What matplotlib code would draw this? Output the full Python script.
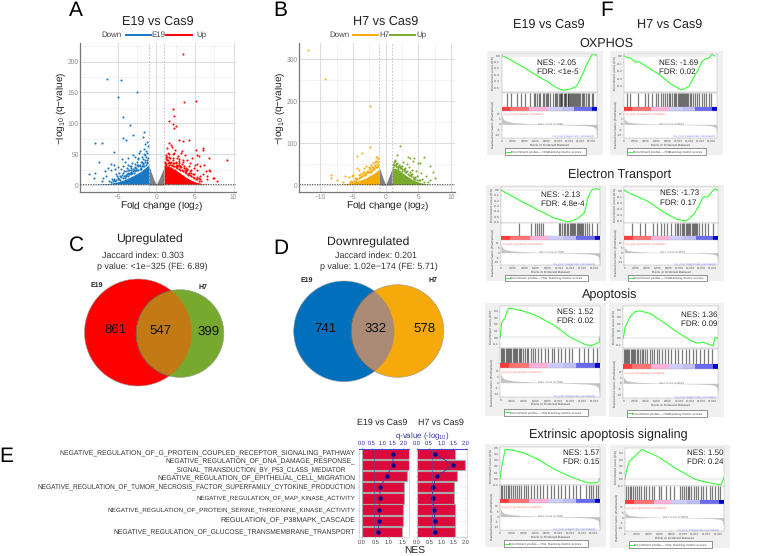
import matplotlib
matplotlib.use('Agg')
import matplotlib.pyplot as plt
import numpy as np
from matplotlib.patches import Circle, Rectangle

W, H = 764, 556
plt.rcParams['font.family'] = ['Liberation Sans', 'DejaVu Sans']
plt.rcParams['mathtext.default'] = 'regular'
plt.rcParams['text.hinting'] = 'no_hinting'

# volcano A
e19_dn_x = [-6.3,-4.5,-2.45,-4.95,-4.3,-3.35,-3.0,-1.6,-1.7,-4.3,-3.9,-7.9,-7.05,-5.5,-7.35,-8.65,-7.9,-8.1,-6.6,-5.9,-6.85,-7.0,-6.2,-5.8,-5.4,-5.2,-4.9,-4.7,-4.4,-4.2,-4.0,-3.8,-3.6,-3.4,-3.2,-3.0,-2.8,-2.6,-2.4,-2.2,-2.0,-1.8,-1.6,-1.4,-1.2,-1.1,-1.3,-1.5,-1.9,-2.3,-2.7,-3.1,-3.5,-3.9,-4.3,-4.8,-5.3,-5.7,-6.1,-6.5,-1.2,-1.4,-1.7,-2.1,-2.5,-2.9,-3.3,-3.7,-4.1,-4.6,-5.0,-5.5,-1.1,-1.25,-1.6,-2.0,-2.4,-2.8,-3.2,-3.6,
            -1.15,-1.35,-1.55,-1.75,-1.95,-2.15,-2.35,-2.55,-2.75,-2.95,-3.15,-3.35,-3.55,-3.75,-3.95,-4.15,-4.35,-4.55,-4.75,-4.95,-5.15,-5.35,-5.6,-5.9,-1.2,-1.45,-1.7,-1.9,-2.1,-2.3,-2.6,-2.85,-3.05,-3.3,-3.5,-3.7,-3.9,-4.1,-4.4,-4.7,-5.05,-5.45,-1.3,-1.65,-2.05,-2.45,-2.75,-3.25,-3.65,-4.25]
e19_dn_y = [171,170,150,142,110,97,81,86,78,76,73,68,67.5,53.5,38,18,19.5,12,23,34,11,6,27,24,32,17,29,14,42,22,38,27,44,30,21,48,34,25,42,51,37,46,58,66,69,63,55,40,30,44,28,36,17,22,30,20,26,10,7,15,52,48,35,55,33,25,24,33,15,26,12,8,44,38,50,26,30,45,31,20,
            35,33,31,30,27,26,24,24,22,22,20,20,17,18,14,15,12,13,10,9,8,7,6,5,40,37,34,38,30,32,27,19,26,18,24,15,16,11,16,8,14,10,45,42,33,37,29,27,25,19]
e19_up_x = [3.5,5.15,3.55,2.15,2.3,1.6,2.2,2.6,2.35,2.9,3.5,4.2,1.7,1.95,5.1,5.3,6.0,6.0,9.2,6.85,5.3,5.5,6.2,6.8,7.0,7.3,7.9,6.5,7.4,6.0,5.7,4.6,4.9,4.4,4.0,3.7,3.3,3.0,2.7,2.4,2.1,1.8,1.5,1.2,1.1,1.3,1.6,1.9,2.2,2.5,2.8,3.1,3.4,3.8,4.2,4.7,5.2,5.6,6.4,6.6,1.15,1.4,1.7,2.0,2.3,2.6,2.9,3.2,3.6,4.0,4.5,5.0,5.5,1.25,1.55,2.05,2.45,3.0,3.5,4.1,
            1.1,1.3,1.5,1.7,1.9,2.1,2.3,2.5,2.7,2.9,3.1,3.3,3.5,3.7,3.9,4.1,4.3,4.5,4.7,4.9,5.1,5.3,5.5,5.8,1.2,1.45,1.65,1.85,2.15,2.35,2.65,2.85,3.05,3.25,3.55,3.75,3.95,4.25,4.55,4.85,5.25,5.65,1.35,1.75,2.2,2.6,2.95,3.35,3.85,4.35]
e19_up_y = [212,136,134,123,111,104,98,96,92,73,72,73,68,64,57,49,60,57,41,43,34,47,32,25,23,12,6,14,12,18,30,43,27,36,26,48,55,39,44,57,50,36,52,46,38,33,46,27,40,31,47,29,37,22,31,18,24,14,22,9,30,60,50,33,52,36,42,52,30,40,24,32,12,48,40,62,25,33,41,16,
            36,34,35,33,32,31,30,29,28,26,25,24,22,21,19,18,16,15,13,12,10,9,7,6,42,40,38,37,36,35,33,31,31,29,27,25,24,20,19,17,13,10,45,44,44,38,36,34,27,23]
e19_core_x = [-8, -6, -5, -4, -3, -2, -1.5, -1, 1, 1.5, 2, 3, 4, 5, 6, 7]
e19_core_y = [1.3, 2.5, 5, 9, 15, 22, 27, 32, 30, 31, 28, 20, 11, 5, 2, 1.3]
e19_ns_x = [-1, -0.8, -0.6, -0.4, -0.2, 0, 0.2, 0.4, 0.6, 0.8, 1]
e19_ns_y = [33, 26, 19, 12, 6, 1, 6, 11, 17, 23, 28]

# volcano B
h7_dn_x = [-11.9,-9.25,-2.4,-2.4,-4.4,-3.6,-8.3,-8.35,-7.4,-6.2,-6.5,-5.2,-4.4,-2.3,-1.5,-1.3,-1.1,-1.7,-1.6,-2.0,-2.8,-3.3,-3.9,-4.7,-5.0,-5.5,-5.6,-3.0,-2.5,-1.9,-1.2,-1.4,-1.8,-2.2,-2.6,-3.5,-4.1,-4.6,-3.1,-2.1,
           -1.15,-1.35,-1.55,-1.75,-1.95,-2.15,-2.35,-2.55,-2.75,-2.95,-3.15,-3.35,-3.55,-3.75,-3.95,-4.15,-4.35,-4.55,-4.8,-5.1,-1.25,-1.65,-2.05,-2.45,-2.85,-3.25,-3.65,-4.05,-4.5,-5.3]
h7_dn_y = [322,253,189,91,70,77,23,17,12,22,7,21,40,48,66,68,62,55,45,52,32,40,27,16,24,6,18,46,38,42,54,58,38,30,44,30,35,10,24,36,
           46,44,42,40,38,36,34,32,30,28,26,24,22,20,18,16,14,12,10,8,50,47,43,40,34,31,27,23,17,10]
h7_up_x = [2.15,5.8,6.8,7.2,7.5,6.8,5.0,5.2,3.4,3.7,4.3,1.8,4.2,3.3,2.6,2.2,1.5,1.2,1.1,1.4,1.7,2.0,2.4,2.9,3.6,4.0,4.6,5.4,6.2,6.5,5.5,4.8,3.0,2.5,1.9,1.6,1.3,3.9,4.4,5.9,
           1.15,1.35,1.55,1.75,1.95,2.15,2.35,2.55,2.75,2.95,3.15,3.35,3.55,3.75,3.95,4.15,4.35,4.55,4.8,5.1,1.25,1.65,2.05,2.45,2.85,3.25,3.65,4.05,4.5,5.3]
h7_up_y = [94,68,45,30,16,12,52,52,68,64,65,71,58,50,56,40,60,48,42,58,52,46,46,40,42,36,34,29,22,8,14,22,32,34,38,50,35,26,14,6,
           50,48,46,44,43,42,40,38,36,33,30,27,25,23,21,19,17,15,13,11,54,51,47,45,39,34,30,26,20,13]
h7_core_x = [-7, -5, -4, -3, -2, -1.5, -1, 1, 1.5, 2, 3, 4, 5, 6, 7]
h7_core_y = [1.3, 6, 11, 17, 26, 31, 38, 40, 40, 36, 24, 14, 7, 3, 1.3]
h7_ns_x = [-1, -0.8, -0.6, -0.4, -0.2, 0, 0.2, 0.4, 0.6, 0.8, 1]
h7_ns_y = [42, 34, 25, 16, 8, 1, 8, 16, 24, 32, 40]

# venn counts
up_counts = [861, 547, 399]
down_counts = [741, 332, 578]

# panel E
go_labels = ['NEGATIVE_REGULATION_OF_G_PROTEIN_COUPLED_RECEPTOR_SIGNALING_PATHWAY',
             'NEGATIVE_REGULATION_OF_DNA_DAMAGE_RESPONSE_',
             '_SIGNAL_TRANSDUCTION_BY_P53_CLASS_MEDIATOR     ',
             'NEGATIVE_REGULATION_OF_EPITHELIAL_CELL_MIGRATION',
             'NEGATIVE_REGULATION_OF_TUMOR_NECROSIS_FACTOR_SUPERFAMILY_CYTOKINE_PRODUCTION',
             'NEGATIVE_REGULATION_OF_MAP_KINASE_ACTIVITY',
             'NEGATIVE_REGULATION_OF_PROTEIN_SERINE_THREONINE_KINASE_ACTIVITY',
             'REGULATION_OF_P38MAPK_CASCADE',
             'NEGATIVE_REGULATION_OF_GLUCOSE_TRANSMEMBRANE_TRANSPORT']
go_label_y = [453.5, 462, 470.5, 479, 487.5, 498.5, 510, 520.5, 533]
go_label_size = [4.95, 4.87, 4.7, 4.85, 4.7, 4.4, 4.57, 5.1, 4.9]
nes_e19 = [1.75, 1.76, 1.68, 1.56, 1.56, 1.54, 1.54, 1.5]
nes_h7 = [1.59, 1.97, 1.66, 1.52, 1.52, 1.55, 1.59, 1.59]
q_e19 = [1.52, 1.49, 1.2, 0.88, 0.88, 0.85, 0.85, 0.78]
q_h7 = [0.75, 1.49, 0.82, 0.65, 0.65, 0.71, 0.75, 0.75]

# GSEA running scores, x in ranks
ox1_x = [0,1000,2000,4000,6000,8000,9500,10500,11200,12300,13300,14400,15000,15600,16200,16800]
ox1_y = [0,-.04,-.09,-.19,-.3,-.4,-.49,-.53,-.54,-.52,-.48,-.29,-.16,-.06,.03,0]
ox2_x = [0,500,1200,2000,2800,4500,6500,8500,10400,11000,11900,13100,13700,14300,15000,15500,16100,16600]
ox2_y = [0,-.02,-.03,-.08,-.08,-.16,-.25,-.37,-.45,-.44,-.4,-.24,-.17,-.07,-.04,-.03,.02,0]
et1_x = [0,3300,6300,9200,11500,12300,13300,14400,15000,15600,16500,17000]
et1_y = [0,-.2,-.37,-.53,-.6,-.58,-.53,-.42,-.13,0,.03,.01]
et2_x = [0,1100,4100,7100,9500,11200,12500,13400,14300,15200,15800,16500,17000]
et2_y = [0,-.05,-.17,-.35,-.47,-.5,-.4,-.27,-.11,-.1,-.03,.03,0]
ap1_x = [0,170,760,1350,1900,3900,6200,9100,12000,14300,15500,16500,16900,17000]
ap1_y = [0,.21,.3,.44,.44,.4,.33,.19,0,-.1,-.13,-.09,-.07,0]
ap2_x = [0,300,1200,2100,3000,4900,7200,9500,12000,13200,14400,16100,16500,17000]
ap2_y = [0,.15,.3,.37,.38,.34,.22,.09,-.03,-.07,-.06,-.11,.01,0]
ex1_x = [0,170,400,860,1700,4000,6300,9100,12000,14900,16300,16800,17000]
ex1_y = [0,.13,.26,.47,.47,.42,.32,.16,.03,-.07,-.07,-.05,0]
ex2_x = [0,300,750,1700,2900,5500,9000,12000,13600,15400,16500,17000]
ex2_y = [0,.15,.27,.35,.45,.35,.15,0,-.04,-.07,-.09,.02]

# gene set hits, ranks in hundreds
ox1_hits = [9,17,27,35,42,50,57,60,63,66,68,73,75,78,80,83,86,92,95,97,99,101,103,105,106,108,110,112,113,115,117,118,120,122,123,125,127,128,130,132,134,136,138,140,142,145,147,150,153,156,160,163]
ox2_hits = [6,10,25,38,43,52,58,62,67,72,75,78,82,85,88,91,94,96,98,100,102,104,106,108,110,112,114,116,118,120,123,126,130,134,137,142,146,150,155,160]
et1_hits = [31,52,59,62,65,68,72,100,102,105,108,111,113,115,118,120,122,124,126,128,130,132,134,136,138,140,142,144,148,152,157,165]
et2_hits = [14,28,38,52,60,66,72,78,85,92,95,98,101,104,107,109,111,113,116,118,120,122,124,126,128,130,132,135,140,146,152,160]
ap1_hits = [1,3,5,7,9,11,13,15,17,19,21,23,25,27,29,31,33,36,39,42,45,48,52,56,60,65,70,76,82,88,92,98,104,110,118,123,135,143,150,158,165]
ap2_hits = [1,3,5,7,9,11,13,15,17,19,21,24,27,30,33,36,39,43,47,51,55,60,64,69,74,80,85,92,98,105,112,118,125,131,138,145,152,160]
ex1_hits = [1,4,7,10,13,16,19,22,25,28,32,36,40,44,48,53,58,63,68,74,80,86,92,98,104,110,117,124,130,136,146,151,155,159,163,167]
ex2_hits = [2,5,8,11,14,17,20,24,28,32,36,41,46,50,58,62,70,78,84,94,98,102,105,108,111,114,118,122,126,130,134,140,146,150,155,160,164]

# ranking metric, same x for all panels
rank_x = [0,100,300,600,1000,2000,3500,5000,7000,7800,9000,11000,13000,15000,16000,16500,16800,17000]
rank_y = [10,7,5,3.5,2.8,1.8,1.1,.7,.2,0,-.2,-.5,-.8,-1.3,-2,-3,-4.5,-12]
strip_edges = [0,.09,.29,.48,.63,.76,.95,1]
strip_colors = ['#ff3b3b','#ff7272','#ffb0d8','#ccccff','#bdbdf8','#6a6aee','#0000cc']


def px_axes(x0, y0, x1, y1, **kw):
    return fig.add_axes([x0 / W, 1 - y1 / H, (x1 - x0) / W, (y1 - y0) / H], **kw)


def txt(x, y, s, size, ha='center', color='#222222', **kw):
    fig.text(x / W, 1 - y / H, s, fontsize=size, ha=ha, va='center', color=color, **kw)


def volcano(box, xlim, ylim, xt, yt, minor_y, dn, up, core, ns, c_dn, c_up, xlab_x):
    ax = px_axes(*box)
    ax.set_xlim(xlim)
    ax.set_ylim(ylim)
    ax.set_xticks(xt)
    ax.set_yticks(yt)
    ax.set_yticks(minor_y, minor=True)
    ax.set_xticks([t + 2.5 for t in xt[:-1]], minor=True)
    ax.grid(True, which='major', color='#dddddd', lw=0.8)
    ax.grid(True, which='minor', color='#eeeeee', lw=0.5)
    ax.set_axisbelow(True)
    ax.tick_params(which='both', length=0, labelsize=4.8, labelcolor='#888888', pad=1)
    ax.spines[['top', 'right']].set_visible(False)
    ax.spines[['left', 'bottom']].set_color('#777777')
    ax.spines[['left', 'bottom']].set_linewidth(0.9)
    cx, cy = np.array(core[0], float), np.array(core[1], float)
    ax.fill_between(cx[cx < 0], 1.3, cy[cx < 0], color=c_dn, lw=0)
    ax.fill_between(cx[cx > 0], 1.3, cy[cx > 0], color=c_up, lw=0)
    ax.scatter(dn[0], dn[1], s=2.2, color=c_dn, lw=0)
    ax.scatter(up[0], up[1], s=2.2, color=c_up, lw=0)
    ax.fill_between(ns[0], 0, ns[1], color='#808080', lw=0)
    for v in (-1, 1):
        ax.axvline(v, color='#bbbbbb', lw=0.6, ls=(0, (2, 2)))
    ax.axhline(1.3, color='#444444', lw=0.6, ls=(0, (1.5, 1.5)))
    ax.set_xlabel('Fold change (log$_2$)', fontsize=7.2, color='#222222', va='center')
    ax.set_ylabel('$-$log$_{10}$ (q$-$value)', fontsize=7.2, color='#222222', va='center')
    ax.xaxis.set_label_coords(xlab_x, -0.095)
    ax.yaxis.set_label_coords(-0.122, 0.56)
    return ax


def venn(c1, c2, r_scale, counts, col1, col2, col_mid):
    r1 = r_scale * np.sqrt(counts[0] + counts[1])
    r2 = r_scale * np.sqrt(counts[1] + counts[2])
    a = Circle(c1, r1, fc=col1, ec='#999999', lw=0.4)
    b = Circle(c2, r2, fc=col2, ec='#999999', lw=0.4)
    m = Circle(c2, r2, fc=col_mid, ec='#555555', lw=0.4)
    bg.add_patch(a)
    bg.add_patch(b)
    bg.add_patch(m)
    m.set_clip_path(Circle(c1, r1, transform=bg.transData))


def nes_panel(box, nes, q, xmax, xt, qk, q_cut):
    ax = px_axes(*box)
    y = np.arange(len(nes))
    ax.barh(y, nes, height=0.92, color='#dc0a3c', edgecolor='#a8a8a8', lw=0.8)
    ax.set_xlim(xmax)
    ax.set_ylim(7.47, -0.47)
    ax.set_xticks(xt)
    ax.set_xticklabels(['%.1f' % t for t in xt])
    ax.set_yticks(y)
    ax.set_yticklabels([])
    ax.tick_params(axis='x', labelsize=4.1, length=1, pad=1, labelcolor='#444444', width=0.4)
    ax.tick_params(axis='y', length=1, width=0.4, color='#888888')
    ax.grid(True, color='#eeeeee', lw=0.4)
    ax.set_axisbelow(True)
    for s in ax.spines.values():
        s.set_color('#cccccc')
        s.set_linewidth(0.5)
    top = ax.twiny()
    top.set_xlim(qk)
    top.plot(q, y, color='#3a3aa8', lw=0.6, marker='o', ms=2.1, mfc='#00008b', mec='#00008b')
    top.axvline(q_cut, color='#5050a0', lw=0.4)
    top.set_xticks([0, 0.5, 1, 1.5, 2])
    top.set_xticklabels(['0.0', '0.5', '1.0', '1.5', '2.0'])
    top.tick_params(axis='x', labelsize=4.1, length=1, pad=0.8, labelcolor='#2222aa', color='#2222aa', width=0.4)
    for k, s in top.spines.items():
        s.set_visible(k == 'top')
    top.spines['top'].set_color('#4444cc')
    top.spines['top'].set_linewidth(0.7)


def thin_frame(ax):
    for s in ax.spines.values():
        s.set_color('#aaaaaa')
        s.set_linewidth(0.3)


def gsea(box, es_x, es_y, hits, nes_text, text_xy, zero, ylim, ytick_step, rank_scale):
    x0, y0, x1, y1 = box
    w, h = x1 - x0, y1 - y0
    bg.add_patch(Rectangle((x0, y0), w, h, fc='#f0f0f0', lw=0))
    left, right = x0 + 0.125 * w, x0 + 0.948 * w
    xmax = 17000

    ax = px_axes(left, y0 + 0.025 * h, right, y0 + 0.395 * h)
    ax.plot(es_x, es_y, color='#33ff33', lw=0.8)
    ax.axhline(0, color='#bbbbbb', lw=0.3)
    ax.set_xlim(0, xmax)
    ax.set_ylim(ylim)
    ticks = np.arange(np.ceil(ylim[0] / ytick_step), np.floor(ylim[1] / ytick_step) + 1) * ytick_step
    ax.set_yticks(ticks)
    ax.set_yticklabels(['%.1f' % (t + 0) for t in ticks])
    ax.set_xticks([])
    ax.tick_params(labelsize=2.4, length=0.8, width=0.2, pad=0.4, labelcolor='#555555', color='#888888')
    ax.set_ylabel('Enrichment score (ES)', fontsize=2.4, labelpad=0.5, color='#444444')
    thin_frame(ax)

    ax = px_axes(left, y0 + 0.40 * h, right, y0 + 0.535 * h)
    ax.vlines(np.array(hits) * 100, 0, 1, color='#222222', lw=0.9, alpha=0.6)
    ax.set_xlim(0, xmax)
    ax.set_ylim(0, 1)
    ax.set_xticks([])
    ax.set_yticks([])
    thin_frame(ax)

    ax = px_axes(left, y0 + 0.535 * h, right, y0 + 0.575 * h)
    ax.barh(0, np.diff(strip_edges), left=strip_edges[:-1], height=1, color=strip_colors, lw=0)
    ax.set_xlim(0, 1)
    ax.set_ylim(-0.5, 0.5)
    ax.axis('off')

    ax = px_axes(left, y0 + 0.575 * h, right, y0 + 0.835 * h)
    ax.fill_between(rank_x, 0, np.array(rank_y) * rank_scale, color='#c4c4c4', lw=0)
    ax.set_xlim(0, xmax)
    ax.set_ylim(-13, 13)
    ax.set_xticks(range(0, 17000, 2000))
    ax.set_xticklabels(['0'] + ['%d,000' % k for k in range(2, 17, 2)])
    ax.set_yticks([-10, -5, 0, 5, 10])
    ax.tick_params(labelsize=2.2, length=0.8, width=0.2, pad=0.4, labelcolor='#555555', color='#888888')
    ax.set_xlabel('Rank in Ordered Dataset', fontsize=2.5, labelpad=1, color='#444444')
    ax.set_ylabel('Ranked list metric (PreRanked)', fontsize=2.4, labelpad=0.5, color='#444444')
    ax.text(0.01, 0.88, "'na_pos' (positively correlated)", fontsize=2.2, color='#ff7070', transform=ax.transAxes, va='center')
    ax.text(0.53, 0.07, "'na_neg' (negatively correlated)", fontsize=2.2, color='#8080ff', transform=ax.transAxes, va='center')
    ax.text(0.38, 0.5, 'Zero cross at ' + zero, fontsize=2.2, color='#777777', transform=ax.transAxes, va='center')
    thin_frame(ax)

    # legend box
    lx0, lx1 = x0 + 0.155 * w, x0 + 0.85 * w
    ly0, ly1 = y0 + 0.935 * h, y0 + 0.998 * h
    bg.add_patch(Rectangle((lx0, ly0), lx1 - lx0, ly1 - ly0, fc='white', ec='#444444', lw=0.4, zorder=3))
    bg.plot([lx0 + 1, lx0 + 5], [(ly0 + ly1) / 2] * 2, color='#33ff33', lw=0.7, zorder=4)
    bg.text(lx0 + 5.5, (ly0 + ly1) / 2, 'Enrichment profile\u2014 Hits', fontsize=2.4, va='center', color='#444444', zorder=4)
    bg.text(lx0 + 0.53 * (lx1 - lx0), (ly0 + ly1) / 2, 'Ranking metric scores', fontsize=2.4, va='center', color='#444444', zorder=4)

    tx, ty = text_xy
    txt(tx, ty, nes_text[0], 5.8, ha='left', zorder=5)
    txt(tx, ty + 9.3, nes_text[1], 5.8, ha='left', zorder=5)


fig = plt.figure(figsize=(W / 100, H / 100), dpi=100)
bg = fig.add_axes([0, 0, 1, 1])
bg.set_xlim(0, W)
bg.set_ylim(H, 0)
bg.axis('off')

# A and B
volcano((80, 43, 236, 192), (-9.85, 10.3), (-11.4, 230), [-5, 0, 5, 10], [0, 50, 100, 150, 200],
        [25, 75, 125, 175, 225], (e19_dn_x, e19_dn_y), (e19_up_x, e19_up_y),
        (e19_core_x, e19_core_y), (e19_ns_x, e19_ns_y), '#1878c4', '#ff0000', 0.526)
volcano((299.3, 43, 455, 192), (-13.2, 10.6), (-16.7, 339), [-10, -5, 0, 5, 10], [0, 100, 200, 300],
        [50, 150, 250], (h7_dn_x, h7_dn_y), (h7_up_x, h7_up_y),
        (h7_core_x, h7_core_y), (h7_ns_x, h7_ns_y), '#f5ab0c', '#7aab2f', 0.57)

txt(76, 11, 'A', 15, color='black')
txt(280.7, 11, 'B', 15, color='black')
txt(158, 22, 'E19 vs Cas9', 9.1)
txt(385.5, 22, 'H7 vs Cas9', 9.1)
txt(111, 35, 'Down', 5.7, color='#444444')
txt(158, 35, 'E19', 5.7, color='#444444')
txt(201, 35, 'Up', 5.7, color='#444444')
bg.plot([126, 151], [34.5, 34.5], color='#1878c4', lw=1.4)
bg.plot([166, 192], [34.5, 34.5], color='#ff0000', lw=1.4)
txt(339, 35, 'Down', 5.7, color='#444444')
txt(384.5, 35, 'H7', 5.7, color='#444444')
txt(421, 35, 'Up', 5.7, color='#444444')
bg.plot([353, 378], [34.5, 34.5], color='#f5ab0c', lw=1.4)
bg.plot([390, 415], [34.5, 34.5], color='#7aab2f', lw=1.4)

# C and D
venn((138, 332.5), (180, 333.5), 53.5 / np.sqrt(1408), up_counts, '#ff0000', '#78a92f', '#c47a14')
venn((344, 331.3), (397.5, 331), 50.3 / np.sqrt(1073), down_counts, '#0070bd', '#f5a90a', '#ab8b76')
txt(76.7, 245.5, 'C', 15, color='black')
txt(281.3, 248.5, 'D', 15, color='black')
txt(149, 239, 'Upregulated', 8.8)
txt(143, 255.7, 'Jaccard index: 0.303', 6.4, color='#333333')
txt(152.7, 266.7, 'p value: <1e\u2212325 (FE: 6.89)', 6.4, color='#333333')
txt(368, 242, 'Downregulated', 8.8)
txt(375.7, 255.7, 'Jaccard index: 0.201', 6.4, color='#333333')
txt(379.3, 266.7, 'p value: 1.02e\u2212174 (FE: 5.71)', 6.4, color='#333333')
txt(96.7, 285, 'E19', 5, fontweight='bold')
txt(202.7, 286.7, 'H7', 5, fontweight='bold')
txt(307, 280, 'E19', 5, fontweight='bold')
txt(432.7, 280, 'H7', 5, fontweight='bold')
for xy, n in zip([(115.7, 330), (161, 331.7), (209, 331.7)], up_counts):
    txt(xy[0], xy[1], str(n), 9.5, color='#111111', zorder=5)
for xy, n in zip([(325, 329), (375.7, 329), (424.7, 329)], down_counts):
    txt(xy[0], xy[1], str(n), 9.5, color='#111111', zorder=5)

# E
txt(6.7, 456.5, 'E', 15, color='black')
for lab, ly, fs in zip(go_labels, go_label_y, go_label_size):
    txt(355, ly, lab, fs, ha='right', color='#333333')
nes_panel((359.3, 448.7, 409.5, 537), nes_e19, q_e19, (-0.09, 1.77), [0, 0.5, 1, 1.5], (-0.115, 2.3), 0.6)
nes_panel((416.7, 448.7, 467.3, 537), nes_h7, q_h7, (-0.02, 2.08), [0, 0.5, 1, 1.5, 2], (0, 2.07), 0.61)
txt(382, 423, 'E19 vs Cas9', 6.4)
txt(441, 423, 'H7 vs Cas9', 6.4)
txt(421.7, 436.5, 'q-value (-log$_{10}$)', 5.7, color='#3333aa')
txt(415, 551, 'NES', 7.4)

# F
txt(606.7, 11, 'F', 15, color='black')
txt(548.3, 24.3, 'E19 vs Cas9', 9.1)
txt(670, 24.3, 'H7 vs Cas9', 9.1)
txt(606.7, 44, 'OXPHOS', 9.1)
txt(620, 175, 'Electron Transport', 9.1)
txt(610, 295, 'Apoptosis', 9.1)
txt(608.7, 435, 'Extrinsic apoptosis signaling', 9.1)

gsea((487.3, 51, 603.3, 155), ox1_x, ox1_y, ox1_hits, ('NES: -2.05', 'FDR: <1e-5'), (537, 62.7), '7848', (-.57, .03), .1, 1)
gsea((610, 51, 722.7, 155), ox2_x, ox2_y, ox2_hits, ('NES: -1.69', 'FDR: 0.02'), (658.7, 62.7), '8653', (-.48, .03), .1, .7)
gsea((486, 185, 606, 281), et1_x, et1_y, et1_hits, ('NES: -2.13', 'FDR: 4.8e-4'), (541, 195), '7848', (-.62, .05), .1, 1)
gsea((610, 185, 724, 281), et2_x, et2_y, et2_hits, ('NES: -1.73', 'FDR: 0.17'), (660, 193.3), '8653', (-.53, .05), .1, .7)
gsea((485.3, 303, 606, 416), ap1_x, ap1_y, ap1_hits, ('NES: 1.52', 'FDR: 0.02'), (557.3, 312), '7848', (-.155, .48), .1, 1)
gsea((609, 303, 724, 417), ap2_x, ap2_y, ap2_hits, ('NES: 1.36', 'FDR: 0.09'), (680.7, 315), '8653', (-.14, .45), .1, .7)
gsea((485, 444, 606, 547), ex1_x, ex1_y, ex1_hits, ('NES: 1.57', 'FDR: 0.15'), (562.7, 452.7), '7848', (-.1, .52), .1, 1)
gsea((610, 445, 730, 548), ex2_x, ex2_y, ex2_hits, ('NES: 1.50', 'FDR: 0.24'), (686.7, 452.7), '8653', (-.1, .48), .1, .7)

fig.savefig('out.png', dpi=100)
